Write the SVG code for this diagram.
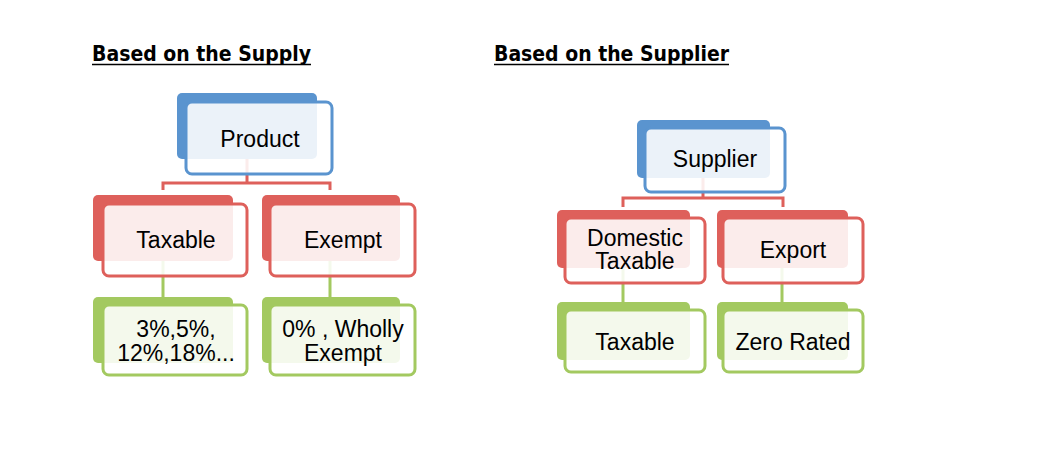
<svg xmlns="http://www.w3.org/2000/svg" width="1063" height="467" viewBox="0 0 1063 467">
<style>
.title{font-family:"DejaVu Sans",Verdana,sans-serif;font-weight:bold;font-size:21px;fill:#000}
.t{font-family:"Liberation Sans",Arial,sans-serif;font-size:23px;fill:#000;text-anchor:middle}
.bb{fill:#5A94CF}.bf{fill:#fff;fill-opacity:0.88;stroke:#5A94CF;stroke-width:3}
.rb{fill:#DE605B}.rf{fill:#fff;fill-opacity:0.88;stroke:#DE605B;stroke-width:3}
.gb{fill:#A3C960}.gf{fill:#fff;fill-opacity:0.88;stroke:#A3C960;stroke-width:3}
.cr{fill:none;stroke:#DE605B;stroke-width:3}
.cg{fill:none;stroke:#A3C960;stroke-width:3}
</style>
<rect width="1063" height="467" fill="#fff"/>
<g id="titles">
<text class="title" x="92" y="61" textLength="219" lengthAdjust="spacingAndGlyphs">Based on the Supply</text>
<line x1="92" y1="64.5" x2="311" y2="64.5" stroke="#000" stroke-width="1.5"/>
<text class="title" x="494" y="61" textLength="235" lengthAdjust="spacingAndGlyphs">Based on the Supplier</text>
<line x1="494" y1="64.5" x2="729" y2="64.5" stroke="#000" stroke-width="1.5"/>
</g>
<g id="connectors">
<path class="cr" d="M247,159 V183 M163,190 V183 H330 V190"/>
<path class="cg" d="M163,261 V297 M330,261 V297"/>
<path class="cr" d="M703,178 V198 M623,207 V198 H783 V207"/>
<path class="cg" d="M623,268 V302 M782,268 V302"/>
</g>
<g id="product">
<rect class="bb" x="177" y="93" width="140" height="66" rx="5"/>
<rect class="bf" x="186" y="102" width="146" height="72" rx="6"/>
<text class="t" x="260" y="147">Product</text>
</g>
<g id="taxable">
<rect class="rb" x="93" y="195" width="140" height="66" rx="5"/>
<rect class="rf" x="103" y="204" width="144" height="72" rx="6"/>
<text class="t" x="176" y="248">Taxable</text>
</g>
<g id="exempt">
<rect class="rb" x="262" y="195" width="138" height="66" rx="5"/>
<rect class="rf" x="270" y="204" width="145" height="72" rx="6"/>
<text class="t" x="343" y="248">Exempt</text>
</g>
<g id="rates">
<rect class="gb" x="93" y="297" width="140" height="66" rx="5"/>
<rect class="gf" x="103" y="305" width="144" height="70" rx="6"/>
<text class="t" x="176" y="337">3%,5%,</text>
<text class="t" x="176" y="361">12%,18%...</text>
</g>
<g id="wholly-exempt">
<rect class="gb" x="262" y="297" width="138" height="66" rx="5"/>
<rect class="gf" x="270" y="305" width="145" height="70" rx="6"/>
<text class="t" x="343" y="337">0% , Wholly</text>
<text class="t" x="343" y="361">Exempt</text>
</g>
<g id="supplier">
<rect class="bb" x="637" y="120" width="133" height="58" rx="5"/>
<rect class="bf" x="645" y="128" width="140" height="64" rx="6"/>
<text class="t" x="715" y="167">Supplier</text>
</g>
<g id="domestic-taxable">
<rect class="rb" x="557" y="210" width="133" height="58" rx="5"/>
<rect class="rf" x="565" y="218" width="140" height="65" rx="6"/>
<text class="t" x="635" y="246">Domestic</text>
<text class="t" x="635" y="269">Taxable</text>
</g>
<g id="export">
<rect class="rb" x="717" y="210" width="131" height="58" rx="5"/>
<rect class="rf" x="723" y="218" width="140" height="65" rx="6"/>
<text class="t" x="793" y="258">Export</text>
</g>
<g id="taxable-2">
<rect class="gb" x="557" y="302" width="133" height="58" rx="5"/>
<rect class="gf" x="565" y="310" width="140" height="62" rx="6"/>
<text class="t" x="635" y="350">Taxable</text>
</g>
<g id="zero-rated">
<rect class="gb" x="717" y="302" width="131" height="58" rx="5"/>
<rect class="gf" x="723" y="310" width="140" height="62" rx="6"/>
<text class="t" x="793" y="350">Zero Rated</text>
</g>
</svg>
